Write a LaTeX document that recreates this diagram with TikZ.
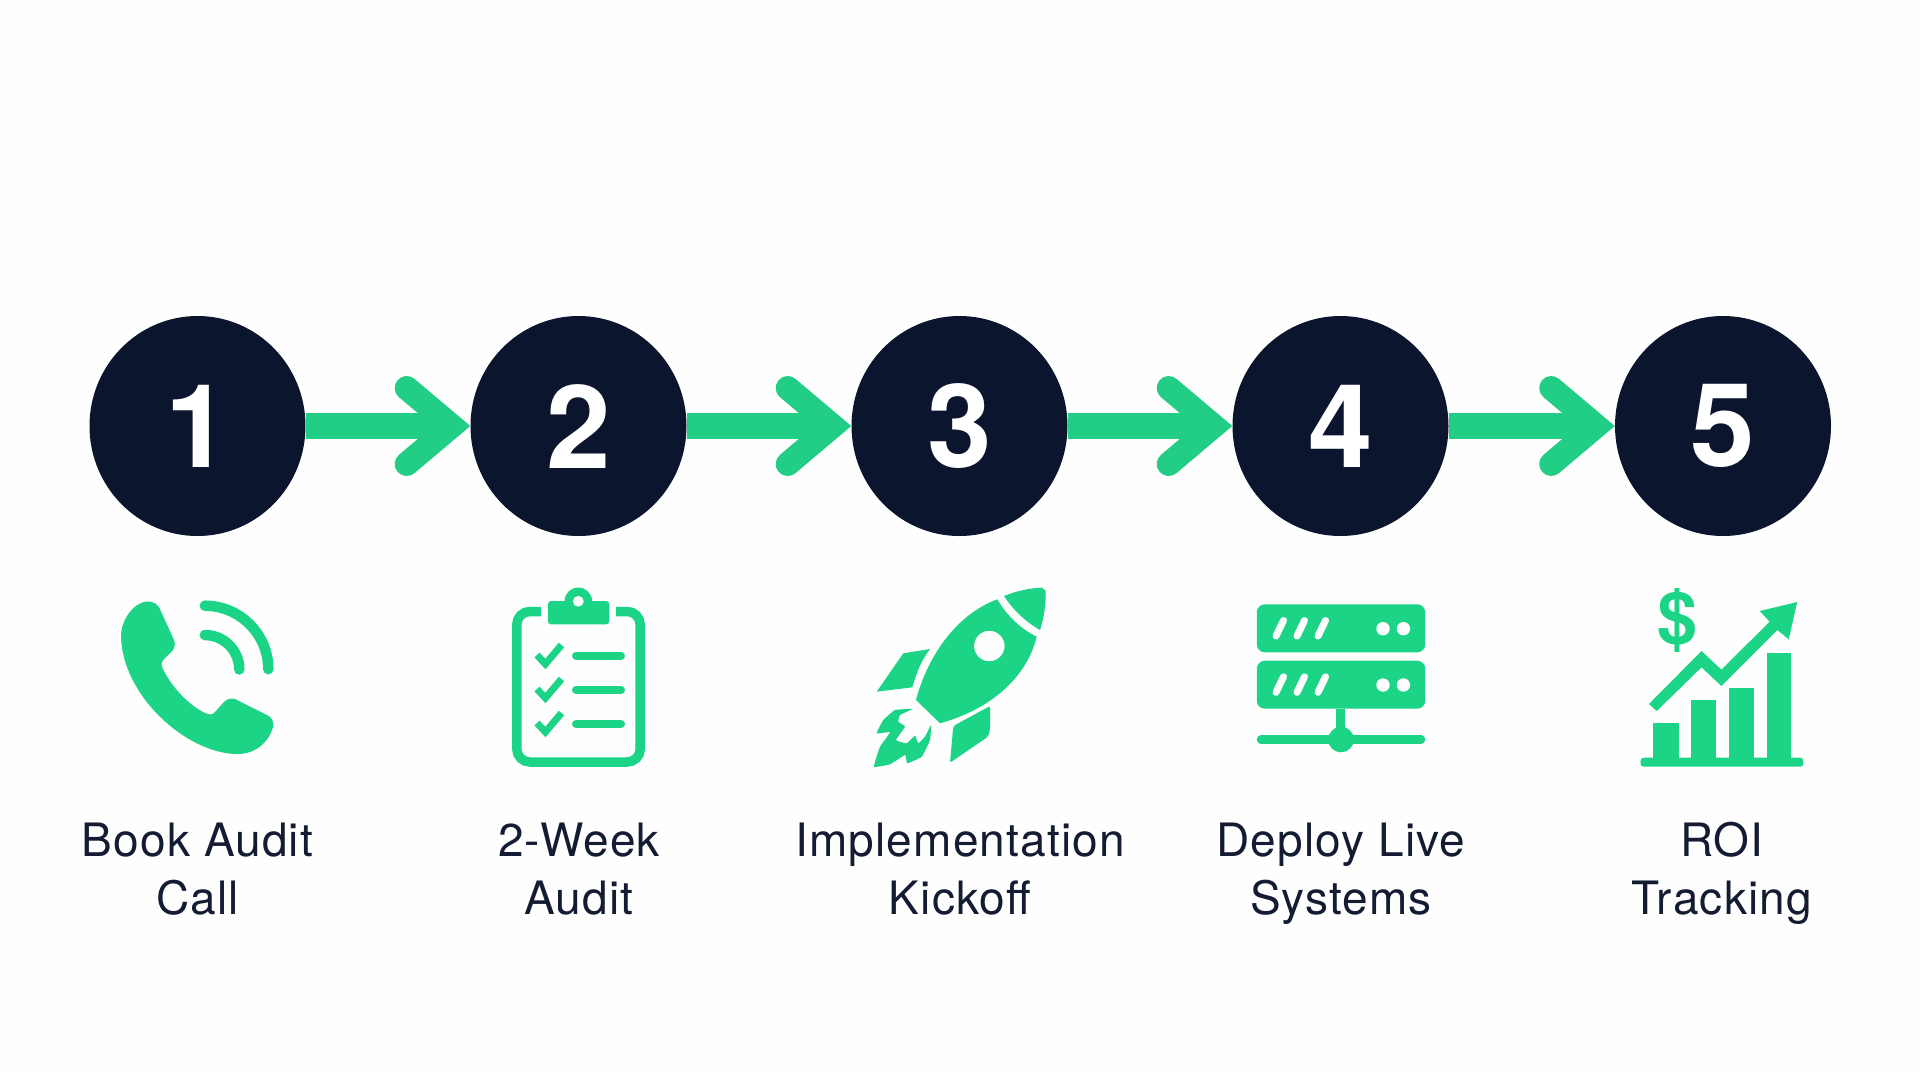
\documentclass[tikz,border=0pt]{standalone}
\usepackage{fontspec}
\setmainfont{TeX Gyre Heros}[LetterSpace=2.5]
\newfontfamily\numfont{TeX Gyre Heros}
\usetikzlibrary{arrows.meta,shapes.geometric}
\definecolor{navy}{HTML}{0B152D}
\definecolor{flowgreen}{HTML}{22CE85}
\definecolor{icongreen}{HTML}{1CD486}
\definecolor{labelink}{HTML}{141C33}
\definecolor{paper}{HTML}{FEFEFE}
\begin{document}
\begin{tikzpicture}[x=1pt,y=1pt]
            \tikzstyle{every node}+=[inner sep=0pt]
            \tikzstyle{stepdisc}=[ellipse,fill=navy,text=white,minimum width=216pt,minimum height=220pt,font=\numfont\bfseries\fontsize{116}{116}\selectfont]
            \tikzstyle{flowline}=[draw=flowgreen,line width=26pt,-{Straight Barb[length=45pt,width=76pt,line width=24pt,line cap=round,line join=miter]}]
            \tikzstyle{steplabel}=[text=labelink,align=center,anchor=base,font=\fontsize{46}{57.5}\selectfont]
            \tikzstyle{iconfill}=[fill=icongreen]
            \tikzstyle{iconline}=[draw=icongreen,line cap=round]
            \fill [paper] (0,0) rectangle (1920,-1072);
            \node [stepdisc] (step1) at (197.5,-426) {1};
            \node [stepdisc] (step2) at (578.5,-426) {2};
            \node [stepdisc] (step3) at (959.5,-426) {3};
            \node [stepdisc] (step4) at (1340.5,-426) {4};
            \node [stepdisc] (step5) at (1723,-426) {5};
            \draw [flowline] (step1) -- (step2);
            \draw [flowline] (step2) -- (step3);
            \draw [flowline] (step3) -- (step4);
            \draw [flowline] (step4) -- (step5);
            \node [steplabel] (label1) at (197.5,-914) {Book Audit\\Call};
            \node [steplabel] (label2) at (579,-914) {2-Week\\Audit};
            \node [steplabel] (label3) at (960,-914) {Implementation\\Kickoff};
            \node [steplabel] (label4) at (1341,-914) {Deploy Live\\Systems};
            \node [steplabel] (label5) at (1722,-914) {ROI\\Tracking};
            \fill [iconfill] (141,-603) .. controls (146,-600) and (155,-601) .. (159,-607) -- (174,-640) .. controls (176,-645) and (174,-650) .. (171,-652) -- (164,-659) .. controls (161,-662) and (161,-666) .. (163,-669) .. controls (172,-688) and (190,-706) .. (205,-713) .. controls (209,-715) and (213,-715) .. (215,-712) -- (224,-702) .. controls (227,-699) and (231,-698) .. (235,-699) -- (267,-715) .. controls (272,-717) and (274,-722) .. (273,-727) .. controls (268,-745) and (252,-755) .. (235,-754) .. controls (185,-752) and (122,-695) .. (121,-636) .. controls (121,-622) and (130,-608) .. (141,-603) -- cycle;
            \draw [iconline,line width=10.5pt] (204.8,-605.7) arc (90:0:63.5);
            \draw [iconline,line width=10.5pt] (204.8,-635) arc (90:0:34.5);
            \draw [draw=icongreen,line width=9.5pt,rounded corners=13pt] (540.8,-611.5) -- (516.8,-611.5) -- (516.8,-762) -- (640.2,-762) -- (640.2,-611.5) -- (616.2,-611.5);
            \fill [iconfill,rounded corners=3pt] (548,-601) rectangle (609.3,-624.3);
            \fill [iconfill] (578.3,-601.3) circle (13.8);
            \fill [paper] (578.3,-601.3) circle (5.4);
            \draw [draw=icongreen,line width=7pt] (537,-655) -- (545.4,-664) -- (561.5,-645);
            \draw [draw=icongreen,line width=7pt] (537,-689) -- (545.4,-698) -- (561.5,-679);
            \draw [draw=icongreen,line width=7pt] (537,-723) -- (545.4,-732) -- (561.5,-713);
            \draw [iconline,line width=8pt] (576,-655.7) -- (621,-655.7);
            \draw [iconline,line width=8pt] (576,-689.7) -- (621,-689.7);
            \draw [iconline,line width=8pt] (576,-724) -- (621,-724);
            \fill [iconfill] (1004,-596) .. controls (1016,-591) and (1030,-588) .. (1041.7,-587.7) -- (1045.7,-590.7) .. controls (1046,-604) and (1044,-618) .. (1040,-630) .. controls (1026,-622) and (1013,-610) .. (1004,-596) -- cycle;
            \fill [iconfill,even odd rule] (997.3,-599.3) .. controls (1007,-616) and (1021,-629) .. (1036.7,-636.7) .. controls (1030,-665) and (1005,-705) .. (940,-723.3) -- (916,-700) .. controls (927,-658) and (955,-615) .. (997.3,-599.3) -- cycle (989.3,-646) circle (15.3);
            \fill [iconfill] (930,-649) .. controls (922,-660) and (918,-668) .. (912.3,-687.3) -- (876.7,-691.7) -- (903.3,-653.3) -- cycle;
            \fill [iconfill,rounded corners=2pt] (990,-706) -- (990,-730) -- (988,-736.7) -- (950,-762.7) -- (953.3,-726) -- cycle;
            \fill [iconfill] plot [smooth cycle,tension=0.2] coordinates {(912.3,-709) (895,-710) (883.3,-720) (876.7,-733.3) (890,-732.3) (880,-746.7) (874,-766.7) (890,-764.3) (905,-755) (907.3,-763.3) (921.7,-756.7) (930,-740) (931,-725) (925,-736.7) (918.3,-743.3) (915,-735.7) (906.7,-743.3) (896,-740) (905,-726.7) (898.3,-721.7) (900,-715)};
            \fill [iconfill,rounded corners=8pt] (1256.8,-604.3) rectangle (1425.2,-652.3);
            \fill [iconfill,rounded corners=8pt] (1256.8,-660.7) rectangle (1425.2,-708.7);
            \draw [draw=paper,line width=7pt,line cap=round] (1276,-636) -- (1283.5,-620.5);
            \draw [draw=paper,line width=7pt,line cap=round] (1297,-636) -- (1304.5,-620.5);
            \draw [draw=paper,line width=7pt,line cap=round] (1318,-636) -- (1325.5,-620.5);
            \fill [paper] (1383,-628.7) circle (6.7);
            \fill [paper] (1403.4,-628.7) circle (6.7);
            \draw [draw=paper,line width=7pt,line cap=round] (1276,-692.3) -- (1283.5,-676.8);
            \draw [draw=paper,line width=7pt,line cap=round] (1297,-692.3) -- (1304.5,-676.8);
            \draw [draw=paper,line width=7pt,line cap=round] (1318,-692.3) -- (1325.5,-676.8);
            \fill [paper] (1383,-685) circle (6.7);
            \fill [paper] (1403.4,-685) circle (6.7);
            \draw [draw=icongreen,line width=8.4pt] (1340.6,-708.7) -- (1340.6,-739.5);
            \draw [iconline,line width=8.5pt] (1261,-739.5) -- (1421,-739.5);
            \fill [iconfill] (1341,-739.5) circle (12.8);
            \fill [iconfill,rounded corners=3pt] (1640.6,-757.7) rectangle (1803.3,-766.7);
            \fill [iconfill] (1652.9,-760) rectangle (1678.5,-723.3);
            \fill [iconfill] (1691.2,-760) rectangle (1716,-700);
            \fill [iconfill] (1728.7,-760) rectangle (1753.9,-687.7);
            \fill [iconfill] (1766.5,-760) rectangle (1791.4,-652.7);
            \fill [iconfill] (1649,-704) -- (1701.5,-651) -- (1721.4,-669.7) -- (1769.6,-621.7) -- (1759.7,-611) -- (1797.2,-602) -- (1788.7,-639.3) -- (1777.3,-630) -- (1721.4,-686) -- (1701.5,-667.3) -- (1656.7,-711) -- cycle;
            \node [text=icongreen,font=\numfont\bfseries\fontsize{72}{72}\selectfont] (dollar) at (1677.5,-620.8) {\$};
            \end{tikzpicture}
\end{document}
